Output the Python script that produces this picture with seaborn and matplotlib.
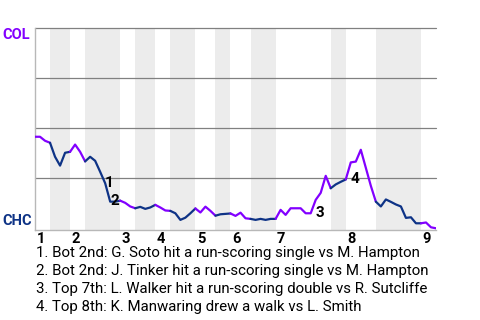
import numpy as np
import pandas as pd
import matplotlib
matplotlib.use("Agg")
import matplotlib.pyplot as plt
import seaborn as sns

# ---- data ----
# COL win probability after each plate appearance (index 0 = game start)
win_prob = [0.457, 0.457, 0.437, 0.427, 0.357, 0.313, 0.377, 0.382, 0.418, 0.382,
            0.334, 0.357, 0.337, 0.282, 0.225, 0.133, 0.133, 0.138, 0.127, 0.109,
            0.100, 0.107, 0.097, 0.104, 0.117, 0.104, 0.089, 0.087, 0.075, 0.042,
            0.053, 0.075, 0.099, 0.079, 0.108, 0.087, 0.063, 0.070, 0.072, 0.074,
            0.062, 0.078, 0.050, 0.047, 0.042, 0.047, 0.042, 0.047, 0.047, 0.092,
            0.067, 0.100, 0.100, 0.100, 0.075, 0.075, 0.142, 0.177, 0.262, 0.200,
            0.219, 0.232, 0.244, 0.329, 0.333, 0.392, 0.302, 0.212, 0.133, 0.109,
            0.144, 0.132, 0.119, 0.109, 0.052, 0.055, 0.025, 0.025, 0.029, 0.005,
            0.000]
# plate appearances per half inning (top 1st, bottom 1st, ...)
half_counts = [3, 4, 3, 7, 3, 4, 3, 5, 4, 3, 4, 5, 11, 3, 6, 9, 3]
inning_labels = ["1", "2", "3", "4", "5", "6", "7", "8", "9"]
event_labels = ["1", "2", "3", "4"]
event_index = [14, 15, 56, 63]
event_texts = [
    "1. Bot 2nd: G. Soto hit a run-scoring single vs M. Hampton",
    "2. Bot 2nd: J. Tinker hit a run-scoring single vs M. Hampton",
    "3. Top 7th: L. Walker hit a run-scoring double vs R. Sutcliffe",
    "4. Top 8th: K. Manwaring drew a walk vs L. Smith",
]
teams = ["COL", "CHC"]

COL_C = "#8200ff"
CHC_C = "#0e3386"

sns.set_style("white")
plt.rcParams["font.family"] = ["Roboto", "DejaVu Sans"]

fig = plt.figure(figsize=(4.8, 3.2), dpi=100)
W, H = 480, 320
ax = fig.add_axes([35 / W, (H - 230) / H, 401 / W, 202 / H])

bounds = np.concatenate([[0], np.cumsum(half_counts)])
n = int(bounds[-1])

# shading for bottom halves
for h in range(len(half_counts)):
    if h % 2 == 1:
        ax.axvspan(bounds[h], bounds[h + 1], color="#ececec", lw=0, zorder=0)

# gridlines
for gy in [0.25, 0.5, 0.75, 1.0]:
    ax.axhline(gy, color="#808080", lw=0.9, zorder=1, clip_on=False)

# line, coloured by batting team
rows = []
for h in range(len(half_counts)):
    for i in range(int(bounds[h]), int(bounds[h + 1]) + 1):
        rows.append({"pa": i, "wp": win_prob[i], "half": h})
df = pd.DataFrame(rows)
palette = {h: (COL_C if h % 2 == 0 else CHC_C) for h in range(len(half_counts))}
sns.lineplot(data=df, x="pa", y="wp", hue="half", palette=palette, units="half",
             estimator=None, sort=False, legend=False, lw=1.6, ax=ax, zorder=3,
             solid_joinstyle="round", solid_capstyle="round")

ax.set_xlim(0, n)
ax.set_ylim(-0.0085, 1.0)
ax.set_xticks([])
ax.set_yticks([])
ax.set_xlabel("")
ax.set_ylabel("")
for s in ["top", "right"]:
    ax.spines[s].set_visible(False)
for s in ["left", "bottom"]:
    ax.spines[s].set_color("#b8b8b8")
    ax.spines[s].set_linewidth(1.0)

# team labels
ax.annotate(teams[0], xy=(2, 1.0), xycoords=("figure pixels", "data"),
            ha="left", va="top", fontsize=10.5, fontweight="bold", color=COL_C)
ax.annotate(teams[1], xy=(2, 0.0), xycoords=("figure pixels", "data"),
            ha="left", va="bottom", fontsize=10.5, fontweight="bold", color=CHC_C)

# inning labels
for k, lab in enumerate(inning_labels):
    ax.annotate(lab, xy=(bounds[2 * k], 0), xycoords=("data", "axes fraction"),
                xytext=(1, -1.2), textcoords="offset points",
                ha="left", va="top", fontsize=10.5, fontweight="bold", color="black")

# event markers
for lab, idx in zip(event_labels, event_index):
    yv = min(win_prob[idx - 1], win_prob[idx])
    ax.annotate(lab, xy=(idx, yv), xytext=(0, 0.5), textcoords="offset points",
                ha="left", va="center", fontsize=11, fontweight="bold",
                color="black", zorder=5)

# event descriptions
for j, t in enumerate(event_texts):
    fig.text(36 / W, 1 - (257.5 + 17.8 * j) / H, t, ha="left", va="baseline",
             fontsize=10.8, color="black")

fig.savefig("out.png", dpi=100)
